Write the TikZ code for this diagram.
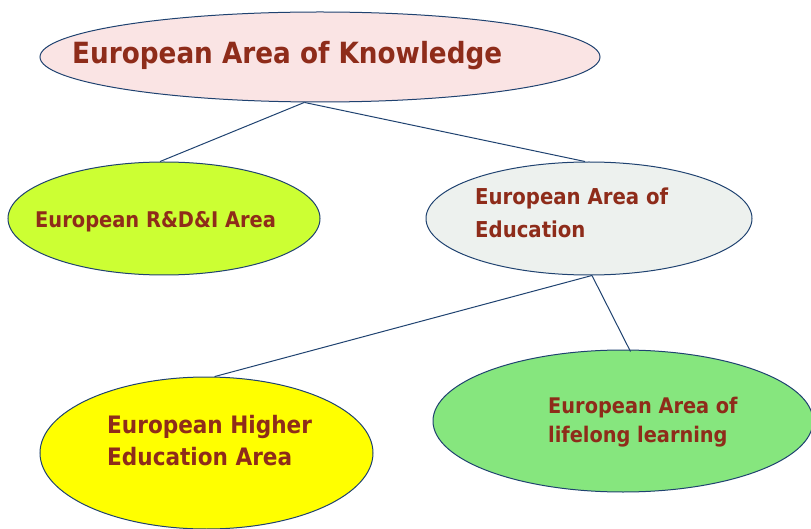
\documentclass[tikz,border=0pt]{standalone}
\usepackage{fontspec}
\setmainfont{DejaVu Sans Condensed}
\usetikzlibrary{shapes.geometric}
\definecolor{edge}{HTML}{1F4270}
\definecolor{txt}{HTML}{8E2C1A}
\definecolor{fknow}{HTML}{FAE4E4}
\definecolor{frdi}{HTML}{CCFF33}
\definecolor{fedu}{HTML}{EDF1EE}
\definecolor{fhigh}{HTML}{FFFF00}
\definecolor{flife}{HTML}{86E67E}
\tikzset{
  area/.style={ellipse, draw=edge, line width=1pt, inner sep=0pt},
  lbl/.style={anchor=west, text=txt, font=\bfseries, align=left, inner sep=0pt},
}
\begin{document}
\begin{tikzpicture}[x=1pt,y=-1pt]
\useasboundingbox (0,0) rectangle (811,529);
\clip (0,0) rectangle (811,529);
\node[area, fill=fknow, minimum width=560pt, minimum height=90pt] (know) at (320,57){};
\node[area, fill=frdi, minimum width=312pt, minimum height=113pt] (rdi) at (164,218.5){};
\node[area, fill=fedu, minimum width=326pt, minimum height=113pt] (edu) at (589,218.5){};
\node[area, fill=fhigh, minimum width=333pt, minimum height=152pt] (high) at (206.5,453){};
\node[area, fill=flife, minimum width=380pt, minimum height=142pt] (life) at (623,421){};
\draw[edge, line width=1pt](know.251) -- (rdi.94);
\draw[edge, line width=1pt](know.251) -- (edu.94);
\draw[edge, line width=1pt](edu.273) -- (high.84);
\draw[edge, line width=1pt](edu.273) -- ([yshift=-2pt]life.84);
\node[lbl, font=\fontsize{29.2}{34}\bfseries] (tknow) at (72,56){European Area of Knowledge};
\node[lbl, font=\fontsize{21.6}{33}\bfseries] (trdi) at (35,222){European R\&D\&I Area};
\node[lbl, font=\fontsize{21.9}{33}\bfseries] (tedu) at (475,213){European Area of\\Education};
\node[lbl, font=\fontsize{24}{32}\bfseries] (thigh) at (107,441){European Higher\\Education Area};
\node[lbl, font=\fontsize{21.5}{29}\bfseries] (tlife) at (548,422){European Area of\\lifelong learning};
\end{tikzpicture}
\end{document}
